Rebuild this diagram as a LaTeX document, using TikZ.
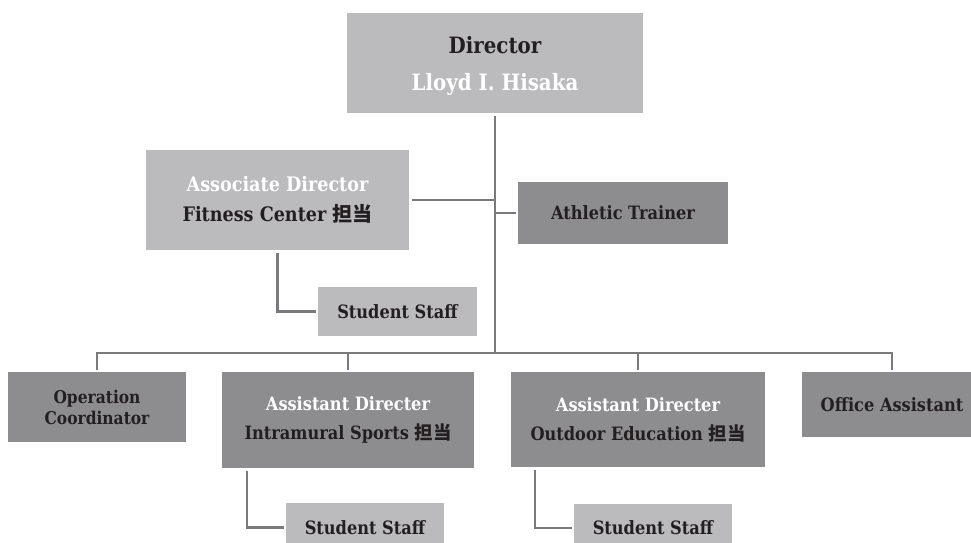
\documentclass[tikz,border=0pt]{standalone}
\usepackage{fontspec}
\setmainfont{DejaVu Serif}[FakeStretch=0.88]
\newfontfamily\jp{Noto Sans CJK JP}
\definecolor{boxlight}{HTML}{BBBBBD}
\definecolor{boxdark}{HTML}{8D8D90}
\definecolor{linegray}{HTML}{7A7A7D}
\definecolor{ink}{HTML}{231F20}
\newcommand\tantou{{\jp\bfseries 担当}}
\begin{document}
\begin{tikzpicture}[x=1pt,y=-1pt,
  box/.style={rectangle,inner sep=0pt,outer sep=2.5pt,align=center,text=ink,
    font=\bfseries\fontsize{18.4}{29}\selectfont},
  light/.style={box,fill=boxlight},
  dark/.style={box,fill=boxdark},
  link/.style={draw=linegray,line width=2.6pt}]
 \useasboundingbox (0,0) rectangle (971,543);
 % top of the chart
 \node[light,minimum width=296pt,minimum height=100pt,font=\bfseries\fontsize{22.5}{37}\selectfont] (director) at (495,63) {\rule{0pt}{23pt}Director\\\textcolor{white}{Lloyd I. Hisaka}};
 \node[light,minimum width=263pt,minimum height=100pt,font=\bfseries\fontsize{20}{30}\selectfont] (assoc) at (277.5,200) {\textcolor{white}{Associate Director}\\Fitness Center \tantou};
 \node[dark,minimum width=210pt,minimum height=62pt] (trainer) at (623,213) {Athletic Trainer};
 \node[light,minimum width=159pt,minimum height=49pt] (fitstaff) at (397.5,311.5) {Student Staff};
 % bottom row
 \node[dark,minimum width=178pt,minimum height=70pt,font=\bfseries\fontsize{17.6}{21}\selectfont] (opco) at (97,407) {Operation\\Coordinator};
 \node[dark,minimum width=252pt,minimum height=96pt] (intra) at (348,420) {\textcolor{white}{Assistant Directer}\\Intramural Sports \tantou};
 \node[dark,minimum width=254pt,minimum height=95pt] (outdoor) at (638,419.5) {\textcolor{white}{Assistant Directer}\\Outdoor Education \tantou};
 \node[dark,minimum width=180pt,minimum height=65pt] (office) at (892,404.5) {Office Assistant};
 \node[light,minimum width=158pt,minimum height=49pt] (intrastaff) at (365,527.5) {Student Staff};
 \node[light,minimum width=158pt,minimum height=49pt] (outstaff) at (653,528) {Student Staff};
 \coordinate (bus) at (495,353);
 % connectors
 \draw[link] (director.south) -- (bus);
 \draw[link] (assoc.east) -- (assoc.east -| bus);
 \draw[link] (trainer.west) -- (trainer.west -| bus);
 \draw[link] (opco.north) |- (bus) -| (office.north);
 \draw[link] (intra.north) -- (intra.north |- bus);
 \draw[link] (outdoor.north) -- (outdoor.north |- bus);
 \draw[link] (assoc.south) |- (fitstaff.west);
 \draw[link] ([xshift=-101pt]intra.south) |- (intrastaff.west);
 \draw[link] ([xshift=-103pt]outdoor.south) |- (outstaff.west);
\end{tikzpicture}
\end{document}
